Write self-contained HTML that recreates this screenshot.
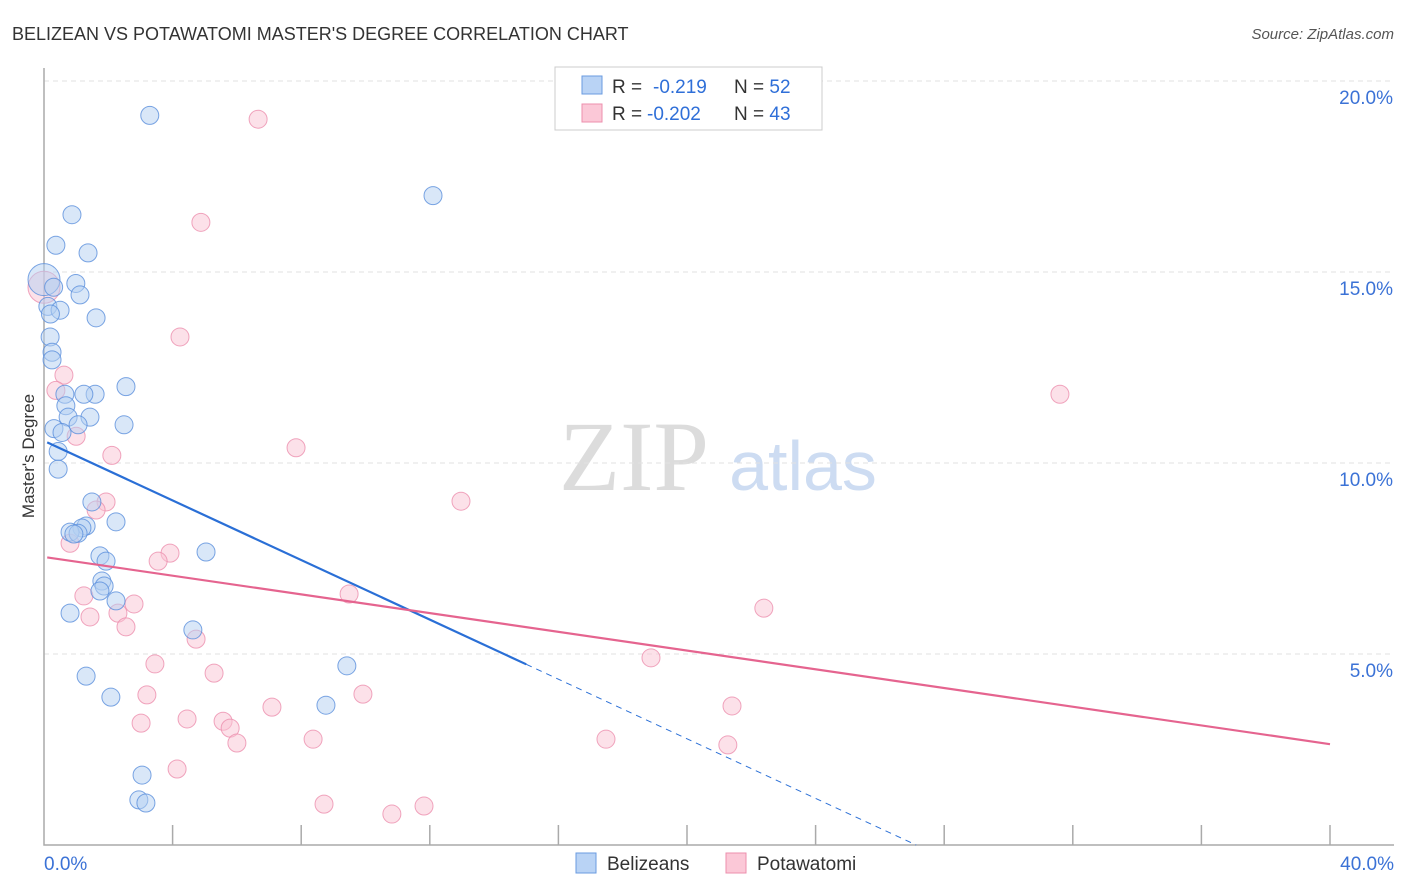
<!DOCTYPE html>
<html><head><meta charset="utf-8"><style>
body{margin:0;background:#fff;font-family:"Liberation Sans",sans-serif;}
svg{display:block}
</style></head><body>
<svg id="chart" width="1406" height="892" xmlns="http://www.w3.org/2000/svg">
<text x="12" y="40" font-size="18" fill="#333">BELIZEAN VS POTAWATOMI MASTER'S DEGREE CORRELATION CHART</text>
<text x="1394" y="39" font-size="15" fill="#555" font-style="italic" text-anchor="end">Source: ZipAtlas.com</text>
<text x="34" y="456" font-size="17" fill="#333" text-anchor="middle" transform="rotate(-90 34 456)">Master's Degree</text>
<g>
<text x="634" y="490" font-size="100" fill="#dcdcdc" font-family="Liberation Serif,serif" text-anchor="middle">ZIP</text>
<text x="803" y="490" font-size="70" fill="#cddcf2" text-anchor="middle">atlas</text>
</g>
<g id="grid"></g><g id="axes"></g><g id="pts"></g><g id="lines"></g>
<g>
<rect x="555" y="67" width="267" height="63" fill="#fff" stroke="#ccc"/>
<rect x="582" y="76" width="20" height="18" fill="#b9d3f5" stroke="#6a9be0"/>
<rect x="582" y="104" width="20" height="18" fill="#fbc8d7" stroke="#ec8fae"/>
<text x="612" y="93" font-size="19" fill="#333">R = <tspan x="653" fill="#2f6fd8">-0.219</tspan><tspan x="734">N = </tspan><tspan fill="#2f6fd8">52</tspan></text>
<text x="612" y="120" font-size="19" fill="#333">R = <tspan x="647" fill="#2f6fd8">-0.202</tspan><tspan x="734">N = </tspan><tspan fill="#2f6fd8">43</tspan></text>
</g>
<g>
<rect x="576" y="853" width="20" height="20" fill="#b9d3f5" stroke="#6a9be0"/>
<text x="607" y="870" font-size="19" fill="#333">Belizeans</text>
<rect x="726" y="853" width="20" height="20" fill="#fbc8d7" stroke="#ec8fae"/>
<text x="757" y="870" font-size="19" fill="#333">Potawatomi</text>
</g>
</svg>
<script>
const xTicks=[0,4,8,12,16,20,24,28,32,36,40];
const yTicks=[5,10,15,20];
const blueX=[3.29,12.1,0.87,0.37,1.37,0,0.99,1.12,0.12,0.5,1.62,0.19,0.25,0.25,2.55,0.65,1.59,1.24,0.68,0.75,1.43,1.06,2.49,0.31,0.56,0.44,0.44,1.49,2.24,1.31,1.18,0.81,1.06,0.93,5.04,1.74,1.93,1.8,1.87,1.74,2.24,4.63,9.42,0.81,1.31,2.08,8.77,3.05,2.95,3.17,0.3,0.2];
const blueY=[19.1,17.0,16.5,15.7,15.5,14.8,14.7,14.4,14.1,14.0,13.8,13.3,12.9,12.7,12.0,11.8,11.8,11.8,11.5,11.2,11.2,11.0,11.0,10.9,10.8,10.3,9.84,8.98,8.46,8.35,8.30,8.19,8.16,8.14,7.67,7.57,7.43,6.91,6.78,6.65,6.39,5.63,4.69,6.07,4.42,3.87,3.66,1.83,1.18,1.10,14.6,13.9];
const pinkX=[6.66,4.88,4.23,31.6,7.84,12.97,0.62,0.37,1.0,2.11,1.93,1.62,0.81,3.92,3.55,9.49,1.24,2.8,2.3,1.43,2.55,4.73,3.45,18.88,22.39,5.29,3.2,9.92,7.09,21.4,3.02,4.45,5.57,5.79,8.37,17.48,6.0,21.27,4.14,8.71,10.82,11.82,0];
const pinkY=[19.0,16.3,13.3,11.8,10.4,9.0,12.3,11.9,10.7,10.2,8.98,8.77,7.9,7.64,7.43,6.57,6.52,6.31,6.07,5.97,5.71,5.39,4.74,4.9,6.2,4.5,3.93,3.95,3.61,3.64,3.19,3.3,3.24,3.06,2.77,2.77,2.67,2.62,1.99,1.07,0.81,1.02,14.6];
const blueFit=[10.58,-0.39];
const pinkFit=[7.54,-0.1225];
const X=v=>44+v*32.15, Y=v=>845-v*38.2;
const NS="http://www.w3.org/2000/svg";
function mk(p,t,a){const e=document.createElementNS(NS,t);for(const k in a)e.setAttribute(k,a[k]);p.appendChild(e);return e;}
const grid=document.getElementById('grid'),axes=document.getElementById('axes');
yTicks.forEach(t=>{
 const l=mk(grid,'line',{x1:44,x2:1394,y1:Y(t),y2:Y(t),stroke:'#e2e2e2','stroke-dasharray':'5,4'});
 
 
 const tx=mk(axes,'text',{x:1393,y:Y(t)+23,'font-size':19,fill:'#3b72d6','text-anchor':'end'});
 tx.textContent=t.toFixed(1)+'%';
 
 
});
const ax=mk(axes,'path',{d:`M44,68V845H1394`,stroke:'#aaa',fill:'none','stroke-width':1.5});


xTicks.forEach(t=>{ if(t===0)return;
 const l=mk(axes,'line',{x1:X(t),x2:X(t),y1:825,y2:845,stroke:'#aaa','stroke-width':1.5});
 
 
});
[[0,'start',44],[40,'end',1394]].forEach(([v,a,x])=>{
 const tx=mk(axes,'text',{x:x,y:870,'font-size':19,fill:'#3b72d6','text-anchor':a});
 tx.textContent=v.toFixed(1)+'%';
 
 
});
const pts=document.getElementById('pts');
function drawPts(xs,ys,fill,stroke,name){xs.forEach((x,i)=>{
 const big=(x===0&&ys[i]>14.5);
 const c=mk(pts,'circle',{cx:X(x),cy:Y(ys[i]),r:big?16:9,fill:fill,'fill-opacity':0.5,stroke:stroke,'stroke-width':1,'stroke-opacity':0.8});
 
 
});}
drawPts(pinkX,pinkY,'#f9c3d3','#ec8fae','potawatomi-point');
drawPts(blueX,blueY,'#b4cff2','#5a8fdc','belizean-point');
const lines=document.getElementById('lines');
const f=(fit,x)=>fit[0]+fit[1]*x;
let l=mk(lines,'line',{x1:X(0.1),y1:Y(f(blueFit,0.1)),x2:X(15),y2:Y(f(blueFit,15)),stroke:'#2a6fd6','stroke-width':2.2});


const xz=-blueFit[0]/blueFit[1];
l=mk(lines,'line',{x1:X(15),y1:Y(f(blueFit,15)),x2:X(xz),y2:Y(0),stroke:'#2a6fd6','stroke-width':1,'stroke-dasharray':'6,5'});


l=mk(lines,'line',{x1:X(0.1),y1:Y(f(pinkFit,0.1)),x2:X(40),y2:Y(f(pinkFit,40)),stroke:'#e5648f','stroke-width':2.2});


</script>
</body></html>
